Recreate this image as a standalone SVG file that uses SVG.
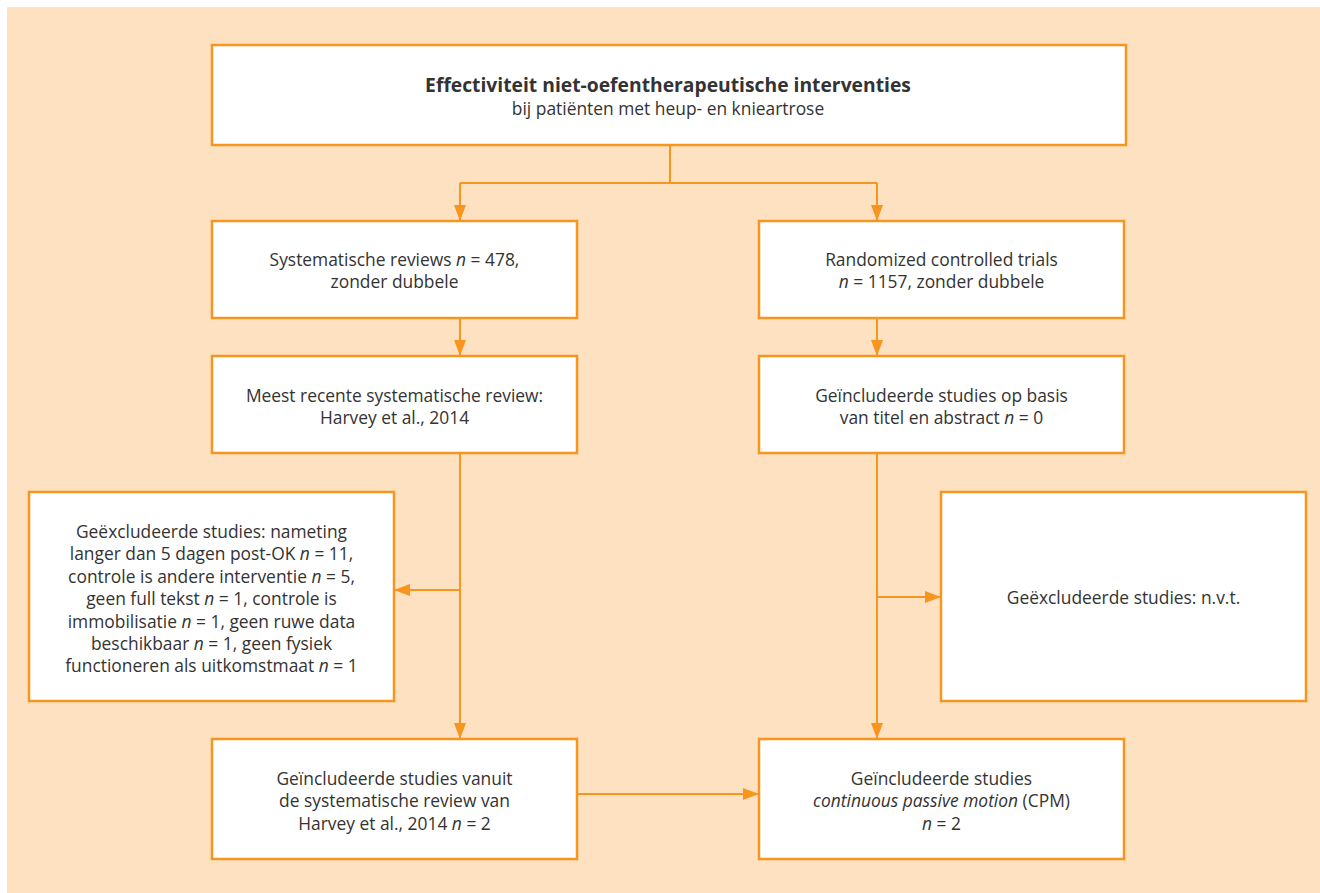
<svg xmlns="http://www.w3.org/2000/svg" width="1320" height="893" viewBox="0 0 1320 893">
<defs>
<marker id="ah" viewBox="0 0 16 12" refX="16" refY="6" markerWidth="16" markerHeight="12" markerUnits="userSpaceOnUse" orient="auto">
<path d="M0,0 L16,6 L0,12 Z" fill="#F7961E"/>
</marker>
<style>
.box{fill:#FFFFFF;stroke:#F7961E;stroke-width:2.5}
.t{font-family:"Open Sans","Liberation Sans",sans-serif;font-size:17.4px;fill:#333333;text-anchor:middle}
.b{font-weight:bold;font-size:19.3px}
.c{fill:none;stroke:#F7961E;stroke-width:2}
.i{font-style:italic}
</style>
</defs>
<rect x="7" y="7" width="1313" height="886" fill="#FDE1C0"/>
<g id="connectors">
<path class="c" d="M670,145 V183 M460,183 H877"/>
<path class="c" d="M460,183 V221" marker-end="url(#ah)"/>
<path class="c" d="M877,183 V221" marker-end="url(#ah)"/>
<path class="c" d="M460,318 V356" marker-end="url(#ah)"/>
<path class="c" d="M877,318 V356" marker-end="url(#ah)"/>
<path class="c" d="M460,453 V739" marker-end="url(#ah)"/>
<path class="c" d="M460,590 H394" marker-end="url(#ah)"/>
<path class="c" d="M877,453 V739" marker-end="url(#ah)"/>
<path class="c" d="M877,597 H941" marker-end="url(#ah)"/>
<path class="c" d="M577,794 H759" marker-end="url(#ah)"/>
</g>
<g id="title">
<rect class="box" x="212" y="45" width="914" height="100"/>
<text class="t b" x="668" y="92">Effectiviteit niet-oefentherapeutische interventies</text>
<text class="t" x="668" y="115">bij patiënten met heup- en knieartrose</text>
</g>
<g id="sr">
<rect class="box" x="212" y="221" width="365" height="97"/>
<text class="t" x="394.5" y="266">Systematische reviews <tspan class="i">n</tspan> = 478,</text>
<text class="t" x="394.5" y="288">zonder dubbele</text>
</g>
<g id="rct">
<rect class="box" x="759" y="221" width="365" height="97"/>
<text class="t" x="941.5" y="266">Randomized controlled trials</text>
<text class="t" x="941.5" y="288"><tspan class="i">n</tspan> = 1157, zonder dubbele</text>
</g>
<g id="recent">
<rect class="box" x="212" y="356" width="365" height="97"/>
<text class="t" x="394.5" y="402">Meest recente systematische review:</text>
<text class="t" x="394.5" y="424">Harvey et al., 2014</text>
</g>
<g id="incl-title">
<rect class="box" x="759" y="356" width="365" height="97"/>
<text class="t" x="941.5" y="402">Geïncludeerde studies op basis</text>
<text class="t" x="941.5" y="424">van titel en abstract <tspan class="i">n</tspan> = 0</text>
</g>
<g id="excl-left">
<rect class="box" x="29" y="492" width="365" height="209"/>
<text class="t" x="211.5" y="538">Geëxcludeerde studies: nameting</text>
<text class="t" x="211.5" y="560">langer dan 5 dagen post-OK <tspan class="i">n</tspan> = 11,</text>
<text class="t" x="211.5" y="583">controle is andere interventie <tspan class="i">n</tspan> = 5,</text>
<text class="t" x="211.5" y="605">geen full tekst <tspan class="i">n</tspan> = 1, controle is</text>
<text class="t" x="211.5" y="628">immobilisatie <tspan class="i">n</tspan> = 1, geen ruwe data</text>
<text class="t" x="211.5" y="650">beschikbaar <tspan class="i">n</tspan> = 1, geen fysiek</text>
<text class="t" x="211.5" y="672">functioneren als uitkomstmaat <tspan class="i">n</tspan> = 1</text>
</g>
<g id="excl-right">
<rect class="box" x="941" y="492" width="365" height="209"/>
<text class="t" x="1123.5" y="604">Geëxcludeerde studies: n.v.t.</text>
</g>
<g id="incl-left">
<rect class="box" x="212" y="739" width="365" height="120"/>
<text class="t" x="394.5" y="785">Geïncludeerde studies vanuit</text>
<text class="t" x="394.5" y="807">de systematische review van</text>
<text class="t" x="394.5" y="830">Harvey et al., 2014 <tspan class="i">n</tspan> = 2</text>
</g>
<g id="incl-right">
<rect class="box" x="759" y="739" width="365" height="120"/>
<text class="t" x="941.5" y="785">Geïncludeerde studies</text>
<text class="t" x="941.5" y="807"><tspan class="i">continuous passive motion</tspan> (CPM)</text>
<text class="t" x="941.5" y="830"><tspan class="i">n</tspan> = 2</text>
</g>
</svg>
